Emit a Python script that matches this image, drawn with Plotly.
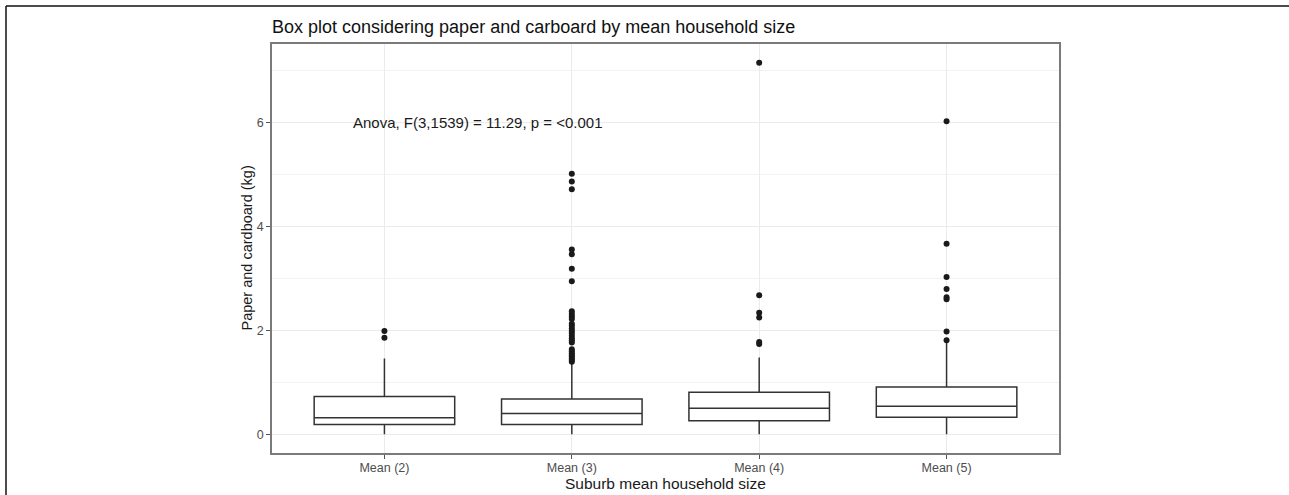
import plotly.graph_objects as go

categories = ["Mean (2)", "Mean (3)", "Mean (4)", "Mean (5)"]
q1_vals = [0.19, 0.19, 0.26, 0.33]
median_vals = [0.32, 0.40, 0.50, 0.54]
q3_vals = [0.73, 0.68, 0.81, 0.91]
lower_whisker = [0.0, 0.0, 0.0, 0.0]
upper_whisker = [1.46, 1.37, 1.48, 1.77]

outliers_mean2 = [1.86, 1.99]
outliers_mean3 = [1.40, 1.43, 1.46, 1.50, 1.53, 1.56, 1.60, 1.64, 1.77, 1.81, 1.85,
                  1.90, 1.95, 1.99, 2.04, 2.09, 2.13, 2.22, 2.27, 2.32, 2.37, 2.95,
                  3.19, 3.47, 3.56, 4.72, 4.87, 5.02]
outliers_mean4 = [1.74, 1.78, 2.25, 2.34, 2.68, 7.16]
outliers_mean5 = [1.81, 1.98, 2.60, 2.64, 2.80, 3.03, 3.67, 6.03]
outlier_lists = [outliers_mean2, outliers_mean3, outliers_mean4, outliers_mean5]

title_text = "Box plot considering paper and carboard by mean household size"
anova_text = "Anova, F(3,1539) = 11.29, p = <0.001"
x_title = "Suburb mean household size"
y_title = "Paper and cardboard (kg)"

FONT = "Liberation Sans, Arial, sans-serif"
PW, PH = 787, 409  # panel size in px (for paper-coordinate placement)

fig = go.Figure()
fig.add_trace(go.Box(
    x=categories,
    q1=q1_vals, median=median_vals, q3=q3_vals,
    lowerfence=lower_whisker, upperfence=upper_whisker,
    width=0.75,
    whiskerwidth=0,
    fillcolor="white",
    line=dict(color="#333333", width=1.5),
    boxpoints=False,
    hoverinfo="skip",
    showlegend=False,
))

ox, oy = [], []
for cat, vals in zip(categories, outlier_lists):
    ox.extend([cat] * len(vals))
    oy.extend(vals)
fig.add_trace(go.Scatter(
    x=ox, y=oy, mode="markers",
    marker=dict(color="#1a1a1a", size=6),
    showlegend=False, hoverinfo="skip",
))

fig.add_annotation(
    x=0.5, y=6, xref="x", yref="y", text=anova_text, showarrow=False,
    font=dict(family=FONT, size=15, color="#1a1a1a"),
    xanchor="center", yanchor="middle",
)

# axis titles
fig.add_annotation(
    x=0.5, y=-30 / PH, xref="paper", yref="paper", text=x_title, showarrow=False,
    font=dict(family=FONT, size=15.5, color="#1a1a1a"),
    xanchor="center", yanchor="middle",
)
fig.add_annotation(
    x=-26 / PW, y=0.5, xref="paper", yref="paper", text=y_title, showarrow=False,
    textangle=-90,
    font=dict(family=FONT, size=14.5, color="#1a1a1a"),
    xanchor="center", yanchor="middle",
)

# outer frame lines (left and top of the figure border)
fig.add_shape(type="line", xref="paper", yref="paper",
              x0=(6 - 272) / PW, x1=(1300 - 272) / PW,
              y0=1 + (44 - 6) / PH, y1=1 + (44 - 6) / PH,
              line=dict(color="#111111", width=1.5))
fig.add_shape(type="line", xref="paper", yref="paper",
              x0=(6 - 272) / PW, x1=(6 - 272) / PW,
              y0=1 + (44 - 6) / PH, y1=(453 - 520) / PH,
              line=dict(color="#111111", width=1.5))

fig.update_layout(
    width=1289, height=495, autosize=False,
    margin=dict(l=272, r=230, t=44, b=42),
    paper_bgcolor="white", plot_bgcolor="white",
    font=dict(family=FONT, color="#1a1a1a"),
    title=dict(text=title_text, x=272 / 1289, xanchor="left",
               y=1 - 27 / 495, yanchor="middle", yref="container",
               font=dict(family=FONT, size=18, color="#111111")),
    xaxis=dict(
        type="category", categoryorder="array", categoryarray=categories,
        range=[-0.6, 3.6], automargin=False,
        showgrid=True, gridcolor="#ebebeb", gridwidth=1,
        zeroline=False,
        showline=True, linecolor="#7a7a7a", linewidth=1.5, mirror=True,
        ticks="outside", ticklen=4, tickcolor="#555555", ticklabelstandoff=-2,
        tickfont=dict(family=FONT, size=12.5, color="#4d4d4d"),
    ),
    yaxis=dict(
        range=[-0.36, 7.52], automargin=False,
        tickvals=[0, 2, 4, 6],
        showgrid=True, gridcolor="#ebebeb", gridwidth=1,
        minor=dict(dtick=1, tick0=0, showgrid=True, gridcolor="#f2f2f2", gridwidth=1, ticklen=0),
        zeroline=False,
        showline=True, linecolor="#7a7a7a", linewidth=1.5, mirror=True,
        ticks="outside", ticklen=4, tickcolor="#555555",
        tickfont=dict(family=FONT, size=12.5, color="#4d4d4d"),
    ),
)

fig.write_html(
    "out.html",
    config={"displayModeBar": False, "responsive": False},
    post_script="document.body.style.margin='0';",
)
